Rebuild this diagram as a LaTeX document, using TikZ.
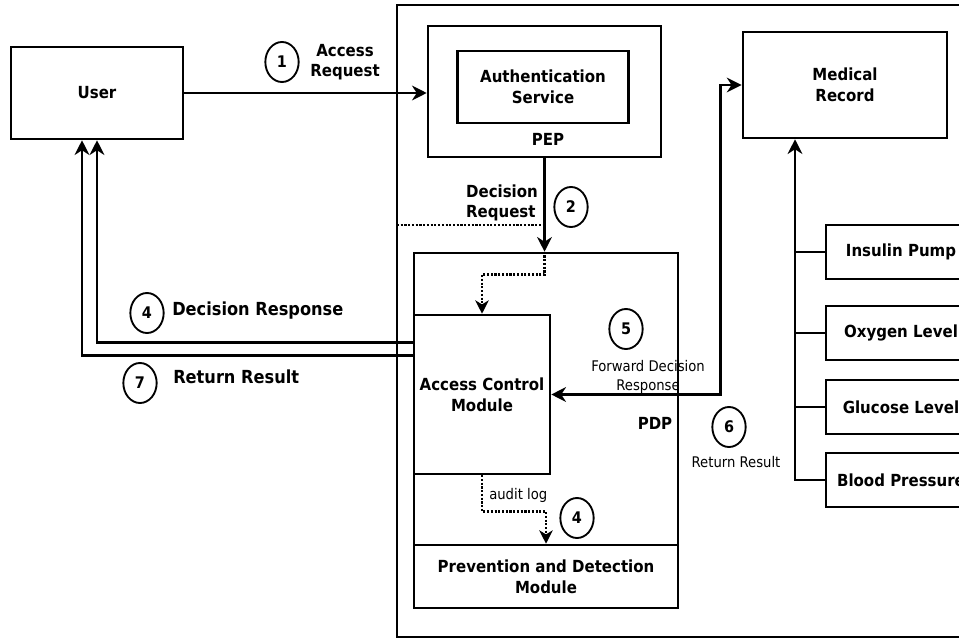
\documentclass[tikz,border=0pt]{standalone}
\usepackage{fontspec}
\setmainfont{DejaVu Sans}[FakeStretch=0.9]
\usetikzlibrary{arrows.meta,shapes.geometric,calc}
\tikzset{
  blk/.style={draw,line width=1.9pt,align=center,inner sep=0pt,font=\bfseries\fontsize{12.5}{16}\selectfont},
  num/.style={draw,ellipse,line width=1.4pt,inner sep=0pt,minimum width=25pt,minimum height=30pt,font=\bfseries\fontsize{12}{14}\selectfont},
  lbl/.style={align=center,font=\bfseries\fontsize{12.5}{15}\selectfont},
  biglbl/.style={anchor=west,inner sep=0pt,font=\bfseries\fontsize{13.5}{16}\selectfont},
  thinlbl/.style={align=center,font=\fontsize{11}{14}\selectfont},
  wire/.style={line width=1.9pt},
  arr/.style={wire,-{Stealth[length=11pt,width=11pt,inset=3.5pt]}},
  biarr/.style={wire,{Stealth[length=11pt,width=11pt,inset=3.5pt]}-{Stealth[length=11pt,width=11pt,inset=3.5pt]}},
  dotline/.style={wire,dash pattern=on 1.6pt off 1.2pt},
  dotarr/.style={dotline,-{Stealth[length=10pt,width=10pt,inset=3pt]}},
}
\begin{document}
\begin{tikzpicture}[x=0.75pt,y=-0.75pt]
\useasboundingbox (0,0) rectangle (959,638);
\clip (0,0) rectangle (959,638);
% frame of the system
\draw[line width=1.6pt] (965,5) -- (397,5) -- (397,637) -- (965,637);

% blocks
\node[blk,minimum width=129pt,minimum height=69pt] (user) at (97,93) {User};
\node[blk,minimum width=174.75pt,minimum height=98.25pt] (pep) at (544.5,91.5) {};
\node[blk,minimum width=128pt,minimum height=54pt] (auth) at (543,87) {Authentication\\Service};
\node[lbl] (peplbl) at (548,139) {PEP};
\node[blk,minimum width=153.3pt,minimum height=79.5pt] (med) at (845,85) {Medical\\Record};
\node[blk,minimum width=198pt,minimum height=266.25pt] (pdp) at (546,430.5) {};
\node[blk,minimum width=102pt,minimum height=119.25pt] (acm) at (482,394.5) {Access Control\\Module};
\node[blk,minimum width=198pt,minimum height=47.25pt] (prev) at (546,576.5) {Prevention and Detection\\Module};
\node[lbl] (pdplbl) at (655,423) {PDP};
\foreach \n/\y/\t in {ins/252/Insulin Pump,oxy/333/Oxygen Level,glu/407/Glucose Level,bp/480/Blood Pressure}
  \node[blk,minimum width=112.5pt,minimum height=40.5pt] (\n) at (901,\y) {\t};

% step numbers
\node[num] (n1) at (282,62) {1};
\node[num] (n2) at (571,207) {2};
\node[num] (n4a) at (147,313) {4};
\node[num] (n7) at (140,383) {7};
\node[num] (n5) at (626,329) {5};
\node[num] (n6) at (729,427) {6};
\node[num] (n4b) at (577,518) {4};

% labels
\node[lbl] (areq) at (345,62) {Access\\Request};
\node[lbl,align=left] (dreq) at (502,203) {Decision\\Request};
\node[biglbl] (dresp) at (172,311) {Decision Response};
\node[biglbl] (rres) at (173,377) {Return Result};
\node[thinlbl] (fwd) at (648,377) {Forward Decision\\Response};
\node[thinlbl] (rres2) at (736,462) {Return Result};
\node[thinlbl,anchor=west,inner sep=0pt] (audit) at (489,495) {audit log};

% connectors
\draw[arr] (user.east) -- (user.east -| pep.west);
\draw[arr] (pep.south) -- (pep.south |- pdp.north);
\coordinate (dl) at (397,225);
\draw[dotline] (dl) -- (dl -| pep.south);
\draw[dotarr] (pep.south |- pdp.north) -- ++(0,23) -| (acm.north);
\draw[dotarr] (acm.south) -- ++(0,36) -| (prev.north);
\draw[biarr] (acm.east) -- ++(169,0) |- (med.west);
\coordinate (bus) at (795,480);
\draw[arr] (bp.west) -- (bus) -- (bus |- med.south);
\foreach \n in {ins,oxy,glu}
  \draw[wire] (\n.west) -- (\n.west -| bus);
\draw[arr] ($(acm.north west)+(0,29)$) -| (user.south);
\draw[arr] ($(acm.north west)+(0,42)$) -| ($(user.south)+(-15,0)$);
\end{tikzpicture}
\end{document}
